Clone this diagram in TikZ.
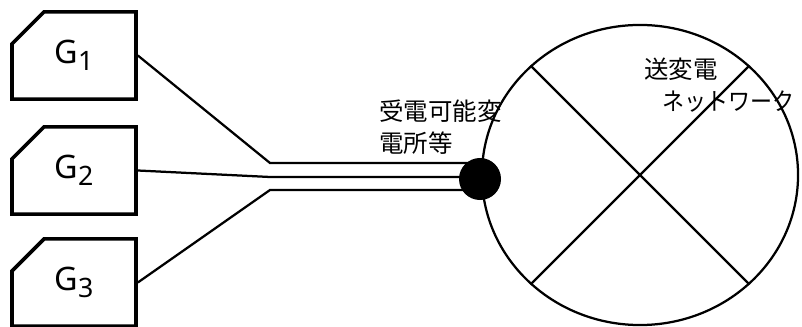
\documentclass[tikz,border=0pt]{standalone}
\usepackage{fontspec}
\setmainfont{Noto Sans}
\newfontfamily\jpfont{Noto Sans CJK JP}
\usetikzlibrary{shapes.misc,shapes.geometric}

\begin{document}
\begin{tikzpicture}[
    x=0.025cm, y=-0.025cm,
    line width=1.6pt,
    gen/.style={chamfered rectangle, chamfered rectangle corners=north west,
        chamfered rectangle xsep=0.62cm, chamfered rectangle ysep=0.42cm,
        draw, line width=2.6pt, minimum width=3.1cm, minimum height=2.18cm,
        inner sep=0pt, font=\fontsize{23}{26}\selectfont},
    lbl/.style={font=\jpfont\fontsize{17.4}{22.8}\selectfont, align=left, inner sep=0pt}
    ]
    \useasboundingbox (0,0) rectangle (802,327);

    % generators
    \node [gen] (g1) at (74,55.5) {G\raisebox{-0.4ex}{\fontsize{19}{22}\selectfont 1}};
    \node [gen] (g2) at (74,170.5) {G\raisebox{-0.4ex}{\fontsize{19}{22}\selectfont 2}};
    \node [gen] (g3) at (74,282.5) {G\raisebox{-0.4ex}{\fontsize{19}{22}\selectfont 3}};

    % network
    \node [ellipse, draw, minimum width=7.9cm, minimum height=7.5cm, inner sep=0pt] (net) at (640,175) {};
    \draw (net.135) -- (net.-45);
    \draw (net.45) -- (net.-135);

    % substation
    \node [circle, fill=black, minimum size=1.05cm, inner sep=0pt] (sub) at (480,179) {};
    \coordinate (j1) at (270,163);
    \coordinate (j2) at (270,177);
    \coordinate (j3) at (270,190);
    \draw (g1.east) -- (j1) -- (j1 -| sub);
    \draw (g2.east) -- (j2) -- (j2 -| sub);
    \draw (g3.east) -- (j3) -- (j3 -| sub);

    % labels
    \node [lbl, anchor=north west] (sublbl) at (378,99) {受電可能変\\電所等};
    \node [lbl, anchor=north west] (netlbl) at (643,57) {送変電\\\hspace*{0.45cm}\scalebox{0.9}[1]{ネットワーク}};
\end{tikzpicture}
\end{document}
